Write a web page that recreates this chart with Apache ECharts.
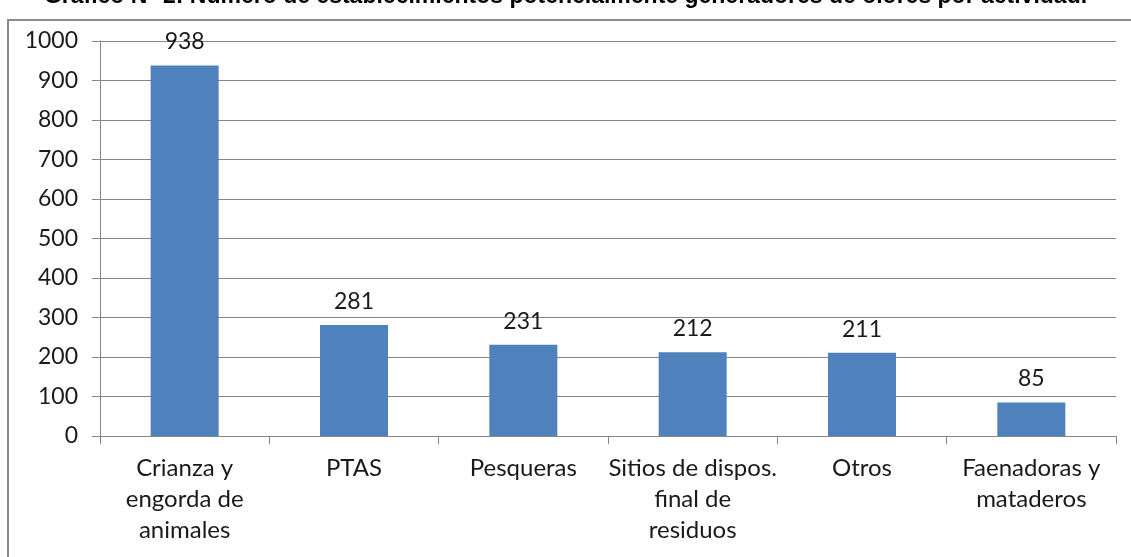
<!DOCTYPE html>
<html><head><meta charset="utf-8">
<script src="https://cdn.jsdelivr.net/npm/echarts@6/dist/echarts.min.js"></script>
<style>html,body{margin:0;padding:0;background:#fff}#c{width:1131px;height:557px}</style>
</head><body><div id="c"></div>
<script>
const titleText = 'Gráfico N° 2: Número de establecimientos potencialmente generadores de olores por actividad.';
const categories = ['Crianza y\nengorda de\nanimales', 'PTAS', 'Pesqueras', 'Sitios de dispos.\nfinal de\nresiduos', 'Otros', 'Faenadoras y\nmataderos'];
const values = [938, 281, 231, 212, 211, 85];
const yTicks = [0, 100, 200, 300, 400, 500, 600, 700, 800, 900, 1000];

const font = 'Lato, "Open Sans", sans-serif';
const chart = echarts.init(document.getElementById('c'), null, {renderer: 'canvas'});
chart.setOption({
  animation: false,
  backgroundColor: '#fff',
  title: {
    text: titleText, left: 'center', top: -20,
    textStyle: {fontFamily: 'Liberation Sans, Arial, sans-serif', fontWeight: 'bold', fontSize: 23, color: '#000'}
  },
  graphic: [
    {type: 'rect', shape: {x: 8, y: 20, width: 1140, height: 560}, style: {fill: 'none', stroke: '#8a8a8a', lineWidth: 2}, z: -1}
  ],
  grid: {left: 100, right: 15, top: 41, bottom: 121, containLabel: false},
  xAxis: {
    type: 'category', data: categories,
    axisLine: {lineStyle: {color: '#868686', width: 1}},
    axisTick: {show: true, length: 8, alignWithLabel: false, lineStyle: {color: '#868686'}},
    axisLabel: {interval: 0, margin: 17, fontFamily: font, fontSize: 24, color: '#1a1a1a', lineHeight: 31}
  },
  yAxis: {
    type: 'value', min: 0, max: 1000, interval: 100,
    axisLine: {show: true, lineStyle: {color: '#868686'}},
    axisTick: {show: true, length: 8, lineStyle: {color: '#868686'}},
    splitLine: {lineStyle: {color: '#868686', width: 1}},
    axisLabel: {margin: 22, fontFamily: font, fontSize: 23, color: '#1a1a1a',
      formatter: v => yTicks.includes(v) ? String(v) : ''}
  },
  series: [{
    type: 'bar', data: values, barWidth: 68,
    itemStyle: {color: '#4f81bd'},
    label: {show: true, position: 'top', distance: 12, fontFamily: font, fontSize: 23, color: '#1a1a1a'}
  }]
});
</script></body></html>
